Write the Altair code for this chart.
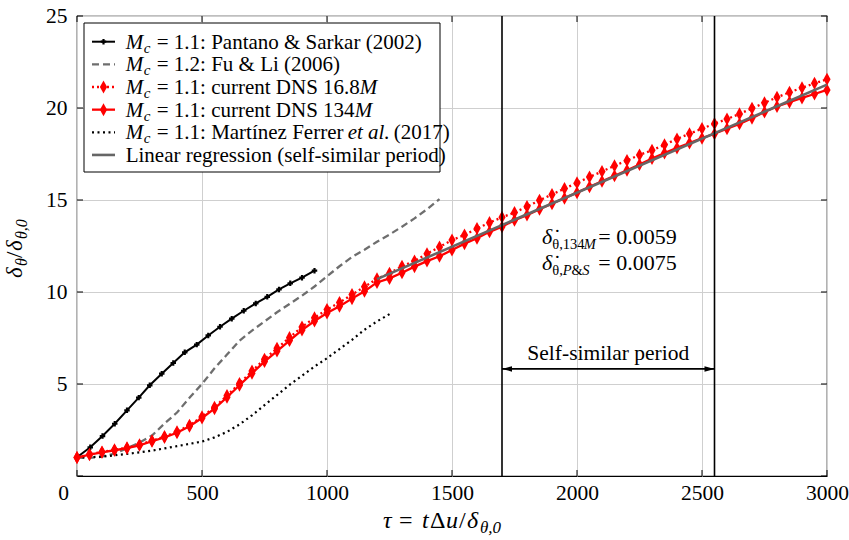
import altair as alt
import pandas as pd

FONT = "Liberation Serif"
W, H = 750, 460

# ---------------------------------------------------------------- data
# Pantano & Sarkar (2002), M_c = 1.1
ps_tau = [0, 53, 102, 151, 200, 247, 291, 339, 385, 431, 479, 525, 572,
          619, 667, 715, 761, 808, 853, 900, 950]
ps_delta = [1.02, 1.56, 2.17, 2.84, 3.57, 4.26, 4.93, 5.56, 6.14, 6.72, 7.14,
            7.64, 8.11, 8.55, 8.98, 9.38, 9.74, 10.14, 10.47, 10.78, 11.16]

# Fu & Li (2006), M_c = 1.2
fl_tau = [0, 50, 100, 150, 200, 250, 300, 350, 400, 450, 500, 550, 600, 650,
          700, 750, 800, 850, 900, 950, 1000, 1050, 1100, 1150, 1200, 1250,
          1300, 1350, 1400, 1450]
fl_delta = [1.0, 0.98, 1.05, 1.22, 1.5, 1.82, 2.2, 2.85, 3.45, 4.25, 5.0, 5.85,
            6.6, 7.35, 7.9, 8.4, 8.9, 9.35, 9.8, 10.3, 10.85, 11.4, 11.9,
            12.3, 12.73, 13.12, 13.55, 14.0, 14.5, 15.05]

# Martinez Ferrer et al. (2017), M_c = 1.1
mf_tau = [0, 100, 200, 300, 400, 500, 550, 600, 650, 700, 750, 800, 850, 900,
          950, 1000, 1050, 1100, 1150, 1200, 1250]
mf_delta = [1.0, 1.05, 1.2, 1.38, 1.62, 1.87, 2.1, 2.4, 2.8, 3.3, 3.85, 4.4,
            4.95, 5.45, 5.95, 6.4, 6.9, 7.4, 7.95, 8.4, 8.8]

# current DNS, sampled every 50 time units
dns_tau = list(range(0, 3001, 50))
dns168_delta = [1.00, 1.18, 1.31, 1.42, 1.54, 1.70, 1.92, 2.14, 2.40, 2.76,
                3.22, 3.74, 4.37, 5.03, 5.70, 6.35, 6.94, 7.52, 8.10, 8.60,
                9.05, 9.43, 9.86, 10.28, 10.72, 11.02, 11.40, 11.68, 12.08,
                12.45, 12.82, 13.10, 13.45, 13.77, 14.06, 14.32, 14.64, 14.98,
                15.30, 15.62, 15.93, 16.25, 16.55, 16.86, 17.15, 17.45, 17.70,
                18.00, 18.32, 18.60, 18.88, 19.15, 19.40, 19.68, 19.98, 20.28,
                20.58, 20.85, 21.10, 21.34, 21.56]
dns134_delta = [1.00, 1.16, 1.29, 1.40, 1.51, 1.67, 1.89, 2.10, 2.35, 2.70,
                3.15, 3.66, 4.28, 4.93, 5.58, 6.22, 6.79, 7.36, 7.93, 8.42,
                8.86, 9.22, 9.64, 10.04, 10.52, 10.74, 11.05, 11.38, 11.68,
                11.94, 12.28, 12.63, 12.92, 13.27, 13.55, 13.90, 14.18, 14.50,
                14.80, 15.10, 15.40, 15.72, 16.02, 16.32, 16.62, 16.93, 17.25,
                17.55, 17.83, 18.10, 18.36, 18.60, 18.87, 19.14, 19.45, 19.78,
                20.08, 20.32, 20.55, 20.76, 20.98]

# linear fit over the self-similar period
reg_tau = [1200, 3000]
reg_delta = [10.7, 21.27]

period_bounds = [1700, 2550]
arrow_level = 5.82

x_ticks = [0, 500, 1000, 1500, 2000, 2500, 3000]
y_ticks = [0, 5, 10, 15, 20, 25]
y_labels = [5, 10, 15, 20, 25]

# ---------------------------------------------------------------- scales
xs = alt.Scale(domain=[0, 3000], nice=False, zero=False)
ys = alt.Scale(domain=[0, 25], nice=False, zero=False)

xaxis = alt.Axis(values=x_ticks, format="d", grid=True, gridColor="#cfcfcf",
                 gridWidth=1, domain=False, ticks=False, labelFont=FONT,
                 labelFontSize=21.5, labelColor="black", labelPadding=6,
                 labelFlush=False, title=None,
                 labelOffset={"condition": {"test": "datum.value === 0", "value": -14},
                              "value": 0})
yaxis = alt.Axis(values=y_labels, grid=True, gridColor="#cfcfcf", gridWidth=1,
                 domain=False, ticks=False, labelFont=FONT, labelFontSize=21.5,
                 labelColor="black", labelPadding=10, labelFlush=False,
                 title=None)

X = alt.X("tau:Q", scale=xs, axis=xaxis)
Y = alt.Y("delta:Q", scale=ys, axis=yaxis)

DIAMOND = "M0,-1L0.55,0L0,1L-0.55,0Z"
HEAD_L = "M0,0L2,-0.55L2,0.55Z"
HEAD_R = "M0,0L-2,-0.55L-2,0.55Z"

one = pd.DataFrame({"k": [0]})


def frame(tau, delta):
    return pd.DataFrame({"tau": tau, "delta": delta})


layers = []

# inward ticks on all four sides
xt = pd.DataFrame({"tau": x_ticks})
yt = pd.DataFrame({"delta": y_ticks})
layers += [
    alt.Chart(xt).mark_rule(color="black", strokeWidth=1).encode(x=X, y=alt.value(H), y2=alt.value(H - 6)),
    alt.Chart(xt).mark_rule(color="black", strokeWidth=1).encode(x=X, y=alt.value(0), y2=alt.value(6)),
    alt.Chart(yt).mark_rule(color="black", strokeWidth=1).encode(y=Y, x=alt.value(0), x2=alt.value(6)),
    alt.Chart(yt).mark_rule(color="black", strokeWidth=1).encode(y=Y, x=alt.value(W), x2=alt.value(W - 6)),
]

# literature curves
layers.append(alt.Chart(frame(fl_tau, fl_delta)).mark_line(
    color="#6e6e6e", strokeWidth=2.3, strokeDash=[7, 4]).encode(x=X, y=Y))
layers.append(alt.Chart(frame(mf_tau, mf_delta)).mark_line(
    color="black", strokeWidth=2.2, strokeDash=[2, 3.5]).encode(x=X, y=Y))
ps = alt.Chart(frame(ps_tau, ps_delta))
layers.append(ps.mark_line(color="black", strokeWidth=2).encode(x=X, y=Y))
layers.append(ps.mark_point(shape="cross", filled=True, size=30, color="black",
                            opacity=1).encode(x=X, y=Y))

# current DNS
d168 = alt.Chart(frame(dns_tau, dns168_delta))
layers.append(d168.mark_line(color="#ff0000", strokeWidth=2.3, strokeDash=[2, 3]).encode(x=X, y=Y))
layers.append(d168.mark_point(shape=DIAMOND, filled=True, size=170, color="#ff0000",
                              opacity=1).encode(x=X, y=Y))
d134 = alt.Chart(frame(dns_tau, dns134_delta))
layers.append(d134.mark_line(color="#ff0000", strokeWidth=2.3).encode(x=X, y=Y))
layers.append(d134.mark_point(shape=DIAMOND, filled=True, size=170, color="#ff0000",
                              opacity=1).encode(x=X, y=Y))

# regression line
layers.append(alt.Chart(frame(reg_tau, reg_delta)).mark_line(
    color="#666666", strokeWidth=2.6).encode(x=X, y=Y))

# self-similar period bounds and arrow
layers.append(alt.Chart(pd.DataFrame({"tau": period_bounds})).mark_rule(
    color="black", strokeWidth=1.6).encode(x=X))
arrow = pd.DataFrame({"tau": [period_bounds[0]], "tau2": [period_bounds[1]],
                      "delta": [arrow_level]})
layers.append(alt.Chart(arrow).mark_rule(color="black", strokeWidth=1.6).encode(
    x=X, x2="tau2:Q", y=Y))
layers.append(alt.Chart(frame([period_bounds[0]], [arrow_level])).mark_point(
    shape=HEAD_L, filled=True, size=100, color="black", opacity=1).encode(x=X, y=Y))
layers.append(alt.Chart(frame([period_bounds[1]], [arrow_level])).mark_point(
    shape=HEAD_R, filled=True, size=100, color="black", opacity=1).encode(x=X, y=Y))


def data_text(txt, tau, delta, size=21, italic=False, align="left"):
    return alt.Chart(frame([tau], [delta])).mark_text(
        text=txt, font=FONT, fontSize=size, color="black", align=align,
        baseline="alphabetic", fontStyle="italic" if italic else "normal"
    ).encode(x=X, y=Y)


layers.append(data_text("Self-similar period", 2125, 6.3, size=21.5, align="center"))

# growth-rate annotation
SUB = 0.27
for base, parts in [
    (12.61, [("θ,134", 1901, False), ("M", 2027, True)]),
    (11.20, [("θ,", 1901, False), ("P", 1943, True), ("&", 1978, False), ("S", 2021, True)]),
]:
    layers.append(data_text("δ\u0307", 1860, base, size=22, italic=True))
    for txt, t, it in parts:
        layers.append(data_text(txt, t, base - SUB, size=14.5, italic=it))
    layers.append(data_text("=", 2085, base, size=22))
layers.append(data_text("0.0059", 2157, 12.61, size=22))
layers.append(data_text("0.0075", 2157, 11.20, size=22))


def px_text(txt, x, y, size=21, italic=False, angle=0):
    return alt.Chart(one).mark_text(
        text=txt, font=FONT, fontSize=size, color="black", align="left",
        baseline="alphabetic", angle=angle,
        fontStyle="italic" if italic else "normal"
    ).encode(x=alt.value(x), y=alt.value(y))


# legend
layers.append(alt.Chart(one).mark_rect(fill="white", stroke="black", strokeWidth=1).encode(
    x=alt.value(7), x2=alt.value(363), y=alt.value(7), y2=alt.value(156)))

rows = [
    dict(color="black", width=2, dash=None, marker="cross", msize=30,
         tail=[("= 1.1: Pantano & Sarkar (2002)", 0, False)]),
    dict(color="#6e6e6e", width=2.3, dash=[7, 4], marker=None, msize=0,
         tail=[("= 1.2: Fu & Li (2006)", 0, False)]),
    dict(color="#ff0000", width=2.3, dash=[2, 3], marker=DIAMOND, msize=170,
         tail=[("= 1.1: current DNS 16.8", 0, False), ("M", 203, True)]),
    dict(color="#ff0000", width=2.3, dash=None, marker=DIAMOND, msize=170,
         tail=[("= 1.1: current DNS 134", 0, False), ("M", 198, True)]),
    dict(color="black", width=2.2, dash=[2, 3.5], marker=None, msize=0,
         tail=[("= 1.1: Martínez Ferrer", 0, False), ("et al.", 191, True),
               ("(2017)", 237, False)]),
    dict(color="#666666", width=2.6, dash=None, marker=None, msize=0,
         tail=None),
]
L = 48.7
for i, r in enumerate(rows):
    yc = 25.7 + 22.65 * i
    rule_kw = dict(color=r["color"], strokeWidth=r["width"])
    if r["dash"]:
        rule_kw["strokeDash"] = r["dash"]
    layers.append(alt.Chart(one).mark_rule(**rule_kw).encode(
        x=alt.value(15), x2=alt.value(38), y=alt.value(yc)))
    if r["marker"]:
        layers.append(alt.Chart(one).mark_point(
            shape=r["marker"], filled=True, size=r["msize"], color=r["color"],
            opacity=1).encode(x=alt.value(26.5), y=alt.value(yc)))
    yb = yc + 7
    if r["tail"] is None:
        layers.append(px_text("Linear regression (self-similar period)", L, yb))
        continue
    layers.append(px_text("M", L, yb, italic=True))
    layers.append(px_text("c", L + 18, yb + 4, size=15, italic=True))
    for txt, off, it in r["tail"]:
        layers.append(px_text(txt, L + 31 + off, yb, italic=it))

# axis titles
XB = 512
for txt, x, dy, size, it in [
    ("τ", 306, 0, 24, True), ("=", 322, 0, 24, False), ("t", 345, 0, 24, True),
    ("Δ", 353, 0, 24, False), ("u", 369, 0, 24, True), ("/", 382, 0, 24, False),
    ("δ", 390, 0, 24, True), ("θ,0", 403, 5, 17, True),
]:
    layers.append(px_text(txt, x, XB + dy, size=size, italic=it))

YB = -55
for txt, y, dx, size, it in [
    ("δ", 262, 0, 23, True), ("θ", 250, 5, 16, True), ("/", 242, 0, 23, False),
    ("δ", 235, 0, 23, True), ("θ,0", 223, 5, 16, True),
]:
    layers.append(px_text(txt, YB + dx, y, size=size, italic=it, angle=270))

chart = alt.layer(*layers).properties(
    width=W, height=H,
    padding={"left": 77, "top": 16, "right": 22, "bottom": 64},
    autosize=alt.AutoSizeParams(type="none"),
).configure_view(stroke="black", strokeWidth=1.2)

chart.save("out.html", embed_options={"renderer": "svg", "actions": False})
